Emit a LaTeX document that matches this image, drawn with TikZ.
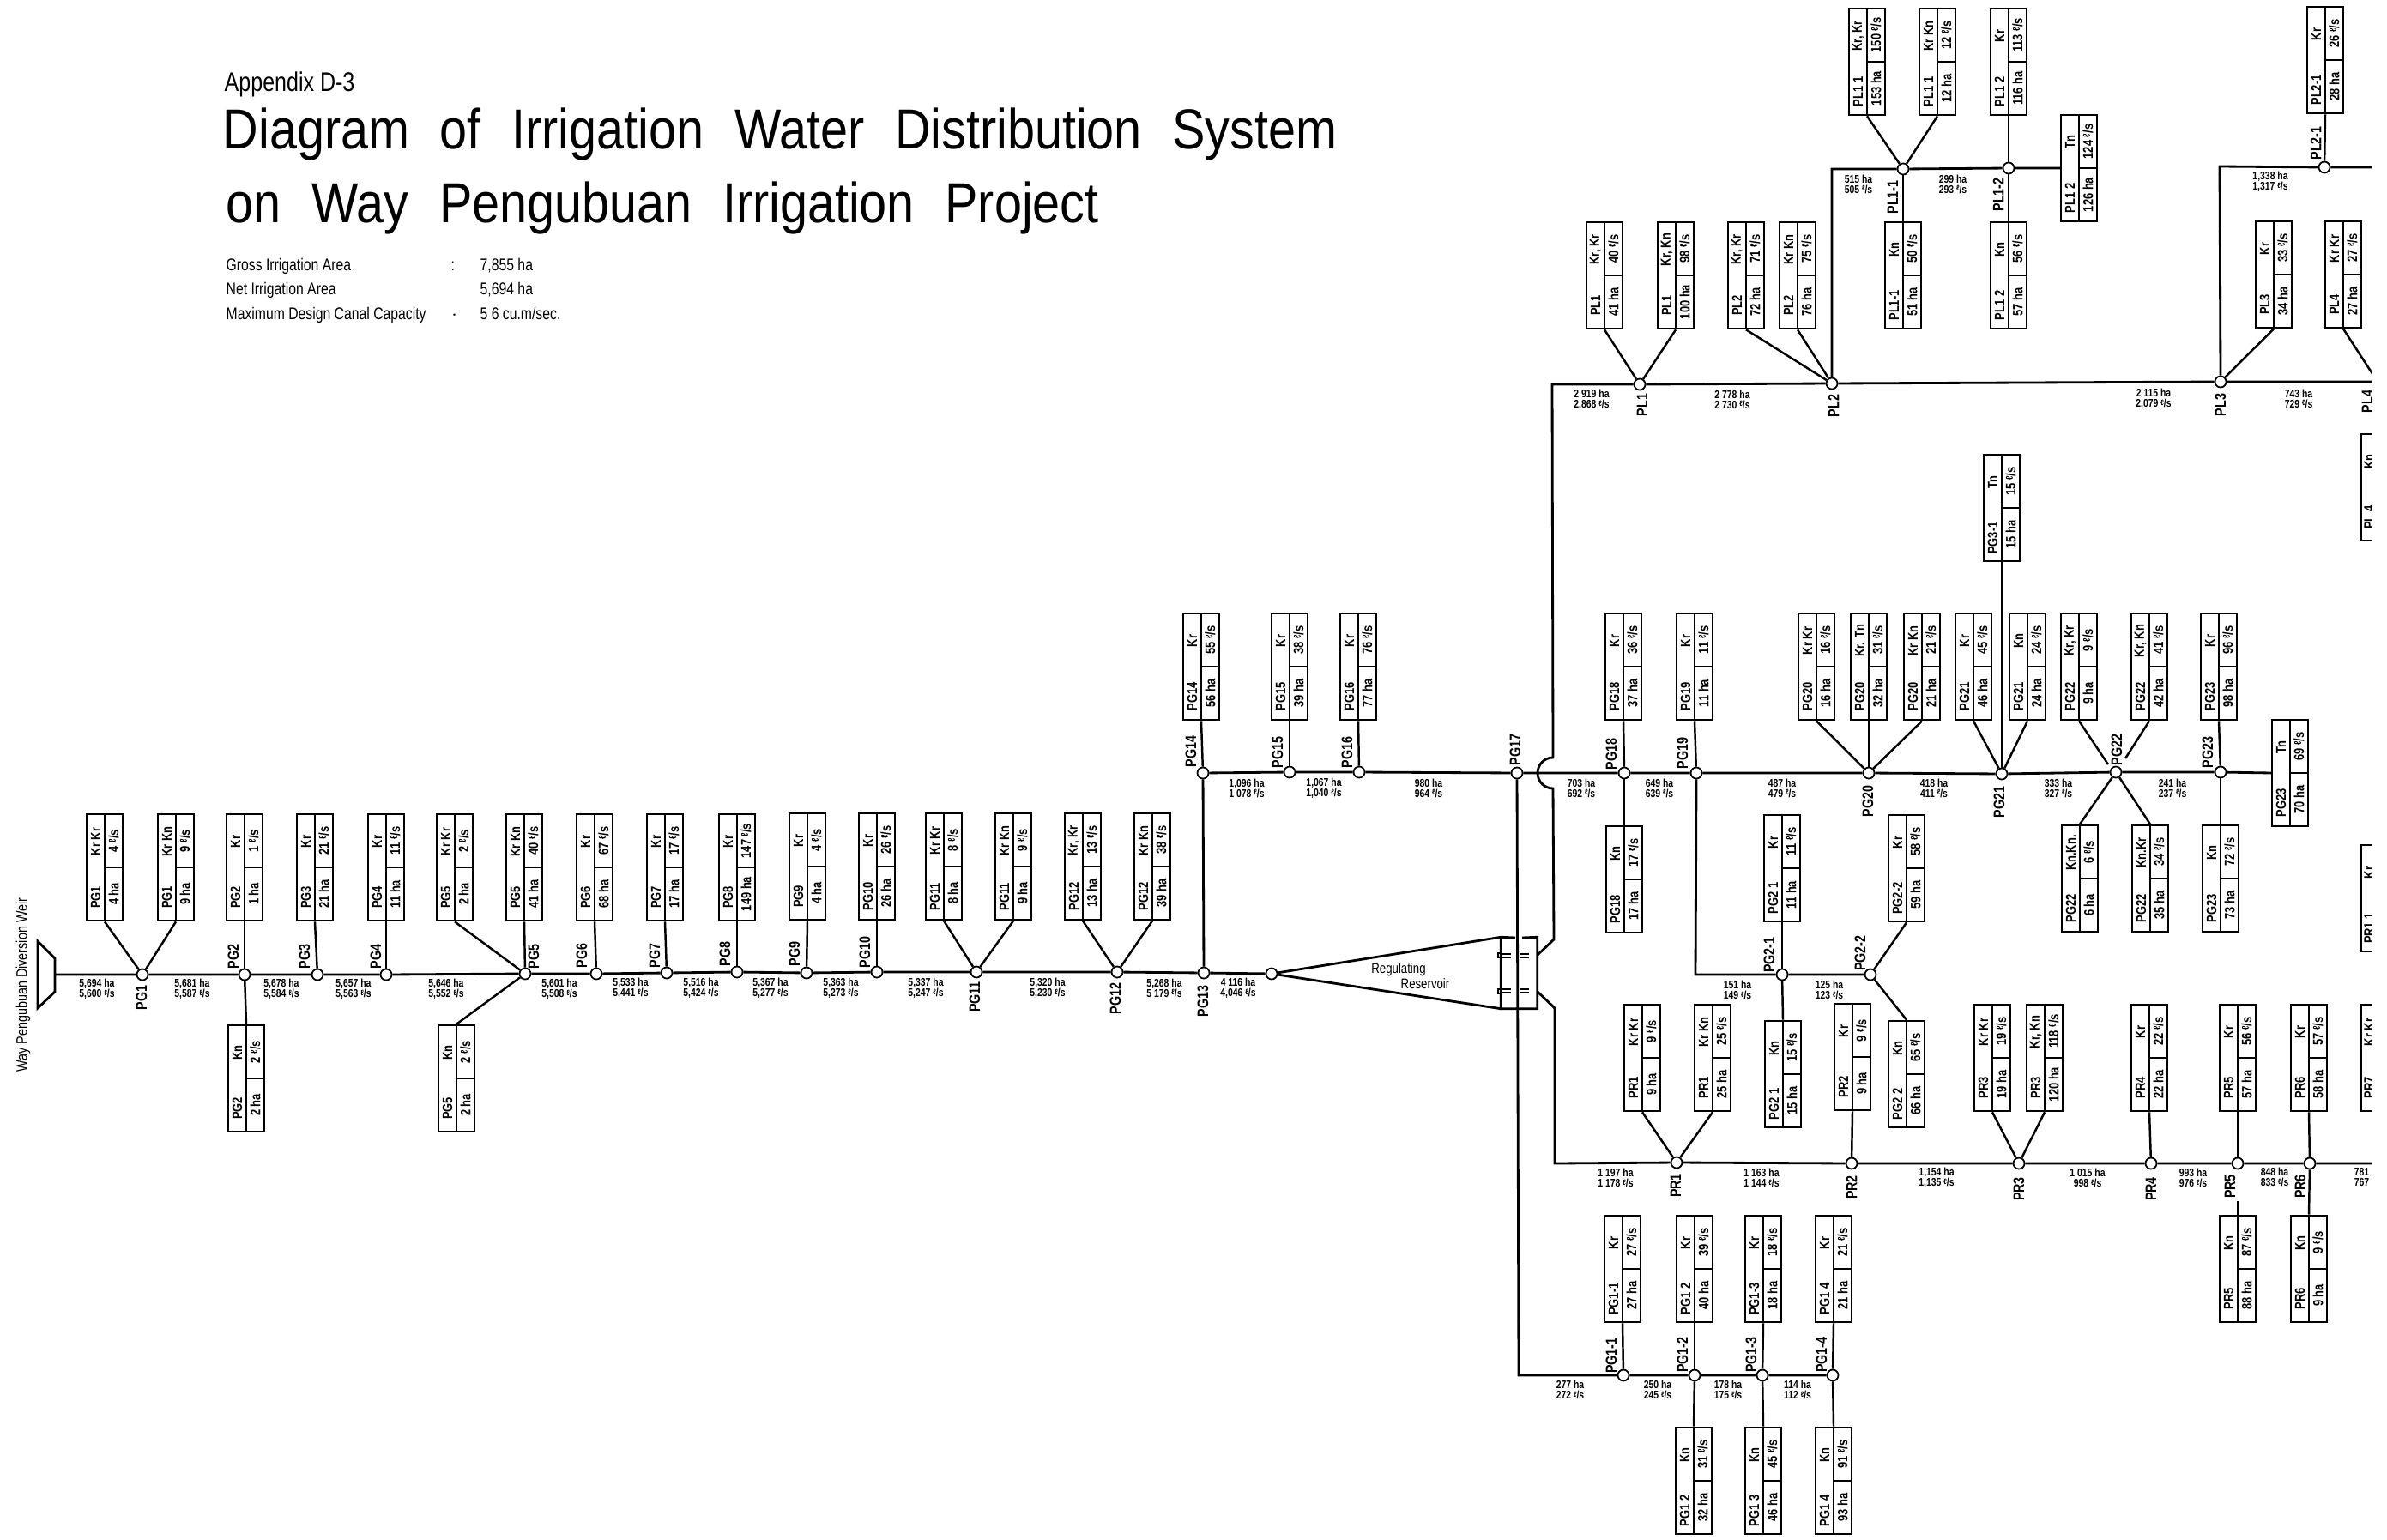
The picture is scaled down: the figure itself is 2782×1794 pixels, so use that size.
\documentclass[tikz,border=0pt]{standalone}
\usepackage{fontspec}
\setmainfont[FakeStretch=0.8]{Liberation Sans}
\newfontfamily\titlefont[FakeStretch=0.875]{Liberation Sans}
\usetikzlibrary{calc}
\newcommand{\lps}{\raisebox{.4ex}{\scalebox{.7}{ℓ}}/s}

\begin{document}
\begin{tikzpicture}[
  x=0.01cm, y=-0.01cm,
  every node/.style={inner sep=0pt},
  canal/.style={line width=0.8pt},
  lateral/.style={line width=0.7pt},
  joint/.style={draw, line width=0.5pt, circle, fill=white, minimum size=3.7pt},
  tag/.style={rotate=90, font=\fontsize{5.1}{6}\selectfont\bfseries},
  farm/.style={draw, line width=0.6pt, minimum width=0.415cm, minimum height=1.245cm},
  farmtext/.style={rotate=90, font=\fontsize{4.6}{5}\selectfont\bfseries},
  flowtext/.style={align=center, font=\fontsize{3.7}{3.5}\selectfont\bfseries},
  infotext/.style={anchor=base west, font=\fontsize{5.6}{6}\selectfont}
]
\useasboundingbox (0,0) rectangle (2782,1794);
\def\farmbox#1#2#3#4#5#6#7{
  \node[farm] (#1) at (#2,#3) {};
  \draw[line width=0.6pt] (#1.north) -- (#1.south);
  \draw[line width=0.6pt] (#1.center) -- (#1.east);
  \node[farmtext] (#1n) at ($(#1.center)+(-10.5,35)$) {#4};
  \node[farmtext] (#1t) at ($(#1.center)+(-10.5,-30)$) {#5};
  \node[farmtext] (#1q) at ($(#1.center)+(10.5,-31)$) {#6 \lps};
  \node[farmtext] (#1a) at ($(#1.center)+(10.5,31)$) {#7 ha};
}
\def\cutbox#1#2#3#4{
  \node[farm] (#1) at (2773,#2) {};
  \node[farmtext] (#1n) at ($(#1.center)+(-12,35)$) {#3};
  \node[farmtext] (#1t) at ($(#1.center)+(-12,-30)$) {#4};
}
\def\turnout#1#2#3#4#5{
  \node[joint] (#1) at (#2,#3) {};
  \node[tag] (l#1) at (#4,#5) {#1};
}
\def\flowtag#1#2#3#4#5{
  \node[flowtext] (#1) at (#2,#3) {#4 ha\\#5 \lps};
}

\node[anchor=base west, font=\fontsize{8.9}{10}\selectfont] (appendix) at (261,107) {Appendix D-3};
\node[anchor=base west, font=\fontsize{18.7}{20}\titlefont] (title1) at (259,173) {Diagram\hspace{0.3em} of\hspace{0.3em} Irrigation\hspace{0.3em} Water\hspace{0.3em} Distribution\hspace{0.3em} System};
\node[anchor=base west, font=\fontsize{18.7}{20}\titlefont] (title2) at (263,259) {on\hspace{0.3em} Way\hspace{0.3em} Pengubuan\hspace{0.3em} Irrigation\hspace{0.3em} Project};
\node[infotext] (gross) at (263,315) {Gross Irrigation Area};
\node[infotext] (grossc) at (525,315) {:};
\node[infotext] (grossv) at (559,315) {7,855 ha};
\node[infotext] (net) at (263,343) {Net Irrigation Area};
\node[infotext] (netv) at (559,343) {5,694 ha};
\node[infotext] (maxd) at (263,372) {Maximum Design Canal Capacity};
\node[infotext] (maxc) at (525,372) {$\cdot$};
\node[infotext] (maxv) at (559,372) {5 6 cu.m/sec.};

\draw[canal] (44,1097) -- (64,1117) -- (64,1156) -- (44,1175) -- cycle;
\coordinate (weir) at (64,1136);
\node[rotate=90, font=\fontsize{5.1}{6}\selectfont] (weirname) at (27,1148) {Way Pengubuan Diversion Weir};

\turnout{PG1}{166}{1136}{165}{1163}
\turnout{PG2}{285}{1136}{272}{1115}
\turnout{PG3}{370}{1136}{355}{1115}
\turnout{PG4}{450}{1136}{438}{1115}
\turnout{PG5}{612}{1135}{622}{1115}
\turnout{PG6}{695}{1135}{678}{1114}
\turnout{PG7}{777}{1134}{763}{1114}
\turnout{PG8}{859}{1133}{845}{1112}
\turnout{PG9}{940}{1134}{926}{1112}
\turnout{PG10}{1022}{1133}{1008}{1110}
\turnout{PG11}{1138}{1133}{1136}{1162}
\turnout{PG12}{1302}{1133}{1300}{1164}
\turnout{PG13}{1403}{1134}{1402}{1167}
\turnout{PG14}{1402}{901}{1388}{876}
\turnout{PG15}{1503}{900}{1489}{877}
\turnout{PG16}{1584}{900}{1570}{877}
\turnout{PG17}{1768}{901}{1766}{874}
\turnout{PG18}{1893}{901}{1878}{879}
\turnout{PG19}{1977}{901}{1961}{878}
\turnout{PG20}{2178}{901}{2177}{934}
\turnout{PG21}{2333}{902}{2330}{935}
\turnout{PG22}{2466}{900}{2467}{874}
\turnout{PG23}{2588}{900}{2573}{877}
\turnout{PG2-1}{2077}{1136}{2062}{1113}
\turnout{PG2-2}{2180}{1136}{2168}{1111}
\turnout{PG1-1}{1892}{1603}{1878}{1580}
\turnout{PG1-2}{1975}{1603}{1961}{1579}
\turnout{PG1-3}{2054}{1603}{2041}{1579}
\turnout{PG1-4}{2136}{1603}{2123}{1579}
\turnout{PR1}{1954}{1355}{1953}{1382}
\turnout{PR2}{2158}{1356}{2158}{1384}
\turnout{PR3}{2353}{1356}{2353}{1386}
\turnout{PR4}{2507}{1356}{2507}{1386}
\turnout{PR5}{2608}{1356}{2599}{1383}
\turnout{PR6}{2692}{1356}{2681}{1383}
\turnout{PL1}{1911}{448}{1914}{472}
\turnout{PL2}{2135}{447}{2137}{473}
\turnout{PL3}{2588}{445}{2588}{472}
\turnout{PL1-1}{2218}{197}{2206}{230}
\turnout{PL1-2}{2341}{196}{2329}{227}
\turnout{PL2-1}{2709}{195}{2699}{167}
\node[joint] (resin) at (1482,1135) {};
\coordinate (PL4) at (2771,445);
\node[tag] (lPL4) at (2759,468) {PL4};

\farmbox{pg1a}{122}{1011}{PG1}{Kr Kr}{4}{4}
\farmbox{pg1b}{205}{1011}{PG1}{Kr Kn}{9}{9}
\farmbox{pg2a}{285}{1011}{PG2}{Kr}{1}{1}
\farmbox{pg2b}{287}{1257}{PG2}{Kn}{2}{2}
\farmbox{pg3a}{367}{1011}{PG3}{Kr}{21}{21}
\farmbox{pg4a}{450}{1011}{PG4}{Kr}{11}{11}
\farmbox{pg5a}{530}{1011}{PG5}{Kr Kr}{2}{2}
\farmbox{pg5b}{611}{1011}{PG5}{Kr Kn}{40}{41}
\farmbox{pg5c}{532}{1257}{PG5}{Kn}{2}{2}
\farmbox{pg6a}{693}{1011}{PG6}{Kr}{67}{68}
\farmbox{pg7a}{775}{1011}{PG7}{Kr}{17}{17}
\farmbox{pg8a}{859}{1011}{PG8}{Kr}{147}{149}
\farmbox{pg9a}{941}{1010}{PG9}{Kr}{4}{4}
\farmbox{pg10a}{1022}{1010}{PG10}{Kr}{26}{26}
\farmbox{pg11a}{1100}{1010}{PG11}{Kr Kr}{8}{8}
\farmbox{pg11b}{1181}{1010}{PG11}{Kr Kn}{9}{9}
\farmbox{pg12a}{1262}{1010}{PG12}{Kr, Kr}{13}{13}
\farmbox{pg12b}{1343}{1010}{PG12}{Kr Kn}{38}{39}
\farmbox{pg14a}{1400}{777}{PG14}{Kr}{55}{56}
\farmbox{pg15a}{1503}{777}{PG15}{Kr}{38}{39}
\farmbox{pg16a}{1583}{777}{PG16}{Kr}{76}{77}
\farmbox{pg18a}{1892}{777}{PG18}{Kr}{36}{37}
\farmbox{pg18b}{1893}{1025}{PG18}{Kn}{17}{17}
\farmbox{pg19a}{1975}{777}{PG19}{Kr}{11}{11}
\farmbox{pg20a}{2117}{777}{PG20}{Kr Kr}{16}{16}
\farmbox{pg20b}{2178}{777}{PG20}{Kr. Tn}{31}{32}
\farmbox{pg20c}{2240}{777}{PG20}{Kr Kn}{21}{21}
\farmbox{pg21a}{2300}{777}{PG21}{Kr}{45}{46}
\farmbox{pg21b}{2363}{777}{PG21}{Kn}{24}{24}
\farmbox{pg31a}{2333}{592}{PG3-1}{Tn}{15}{15}
\farmbox{pg22a}{2423}{777}{PG22}{Kr, Kr}{9}{9}
\farmbox{pg22b}{2505}{777}{PG22}{Kr, Kn}{41}{42}
\farmbox{pg22c}{2424}{1024}{PG22}{Kn.Kn.}{6}{6}
\farmbox{pg22d}{2506}{1024}{PG22}{Kn.Kr}{34}{35}
\farmbox{pg23a}{2586}{777}{PG23}{Kr}{96}{98}
\farmbox{pg23b}{2588}{1024}{PG23}{Kn}{72}{73}
\farmbox{pg23c}{2669}{901}{PG23}{Tn}{69}{70}
\farmbox{pgiia}{2077}{1012}{PG2 1}{Kr}{11}{11}
\farmbox{pgiib}{2078}{1252}{PG2 1}{Kn}{15}{15}
\farmbox{pgiic}{2222}{1012}{PG2-2}{Kr}{58}{59}
\farmbox{pgiid}{2222}{1252}{PG2 2}{Kn}{65}{66}
\farmbox{pr1a}{1914}{1233}{PR1}{Kr Kr}{9}{9}
\farmbox{pr1b}{1996}{1233}{PR1}{Kr Kn}{25}{25}
\farmbox{pr2a}{2159}{1232}{PR2}{Kr}{9}{9}
\farmbox{pr3a}{2322}{1233}{PR3}{Kr Kr}{19}{19}
\farmbox{pr3b}{2383}{1233}{PR3}{Kr, Kn}{118}{120}
\farmbox{pr4a}{2505}{1233}{PR4}{Kr}{22}{22}
\farmbox{pr5a}{2608}{1233}{PR5}{Kr}{56}{57}
\farmbox{pr5b}{2608}{1479}{PR5}{Kn}{87}{88}
\farmbox{pr6a}{2691}{1233}{PR6}{Kr}{57}{58}
\farmbox{pr6b}{2691}{1479}{PR6}{Kn}{9}{9}
\farmbox{pgia}{1891}{1479}{PG1-1}{Kr}{27}{27}
\farmbox{pgib}{1975}{1479}{PG1 2}{Kr}{39}{40}
\farmbox{pgic}{1974}{1726}{PG1 2}{Kn}{31}{32}
\farmbox{pgid}{2055}{1479}{PG1-3}{Kr}{18}{18}
\farmbox{pgie}{2055}{1726}{PG1 3}{Kn}{45}{46}
\farmbox{pgif}{2137}{1479}{PG1 4}{Kr}{21}{21}
\farmbox{pgig}{2137}{1726}{PG1 4}{Kn}{91}{93}
\farmbox{pl1a}{1870}{321}{PL1}{Kr, Kr}{40}{41}
\farmbox{pl1b}{1953}{321}{PL1}{Kr, Kn}{98}{100}
\farmbox{pl2a}{2035}{321}{PL2}{Kr, Kr}{71}{72}
\farmbox{pl2b}{2095}{321}{PL2}{Kr Kn}{75}{76}
\farmbox{pliia}{2176}{72}{PL1 1}{Kr, Kr}{150}{153}
\farmbox{pliib}{2258}{72}{PL1 1}{Kr Kn}{12}{12}
\farmbox{pliic}{2218}{321}{PL1-1}{Kn}{50}{51}
\farmbox{pliid}{2341}{72}{PL1 2}{Kr}{113}{116}
\farmbox{pliie}{2341}{321}{PL1 2}{Kn}{56}{57}
\farmbox{pliif}{2423}{196}{PL1 2}{Tn}{124}{126}
\farmbox{pl21a}{2710}{70}{PL2-1}{Kr}{26}{28}
\farmbox{pl3a}{2650}{320}{PL3}{Kr}{33}{34}
\farmbox{pl4a}{2731}{320}{PL4}{Kr Kr}{27}{27}
\cutbox{pl4b}{568}{PL.4}{Kn}
\cutbox{pr11a}{1047}{PR1.1}{Kr}
\cutbox{pr7a}{1233}{PR7}{Kr Kr}

\draw[canal] (weir) -- (PG1) -- (PG2) -- (PG3) -- (PG4) -- (PG5) -- (PG6) -- (PG7) -- (PG8) -- (PG9) -- (PG10) -- (PG11) -- (PG12) -- (PG13) -- (resin);
\draw[canal] (PG13) -- (PG14) -- (PG15) -- (PG16) -- (PG17) -- (PG18) -- (PG19) -- (PG20) -- (PG21) -- (PG22) -- (PG23) -- (pg23c.west);
\draw[canal] (PG17) -- (1770,1603) -- (PG1-1) -- (PG1-2) -- (PG1-3) -- (PG1-4);
\draw[canal] (PG19) -- (1976,1136) -- (PG2-1) -- (PG2-2);
\draw[canal] (PL1) -- (1809,448) -- (1810,883) .. controls (1800,883) and (1792,891) .. (1792,901) .. controls (1792,911) and (1800,919) .. (1810,919) -- (1811,1095) -- (1792,1113);
\draw[canal] (1792,1156) -- (1812,1175) -- (1812,1356) -- (PR1) -- (PR2) -- (PR3) -- (PR4) -- (PR5) -- (PR6) -- (2764,1356);
\draw[canal] (PL1) -- (PL2) -- (PL3) -- (PL4);
\draw[canal] (PL2) -- (2135,197) -- (PL1-1) -- (PL1-2) -- (pliif.west);
\draw[canal] (PL3) -- (2587,194) -- (PL2-1) -- (2764,195);

\node[minimum width=0.41cm, minimum height=0.82cm] (resv) at (1770.5,1134) {};
\draw[canal] (resin) -- (resv.north west) -- (1766,1093);
\draw[canal] (1774,1093) -- (resv.north east) -- (resv.south east) -- (resv.south west) -- (resv.north west);
\draw[canal] (resin) -- (resv.south west);
\draw[dashed, line width=0.5pt] (1750,1112) -- (1792,1112);
\draw[dashed, line width=0.5pt] (1750,1116) -- (1792,1116);
\draw[dashed, line width=0.5pt] (1750,1153) -- (1792,1153);
\draw[dashed, line width=0.5pt] (1750,1157) -- (1792,1157);
\draw[line width=0.4pt] (1746,1111) rectangle (1750,1116);
\draw[line width=0.4pt] (1746,1153) rectangle (1750,1158);
\node[font=\fontsize{4.7}{5}\selectfont] (resa) at (1630,1130) {Regulating};
\node[font=\fontsize{4.7}{5}\selectfont] (resb) at (1661,1147) {Reservoir};

\draw[lateral] (pg1a.south) -- (PG1);
\draw[lateral] (pg1b.south) -- (PG1);
\draw[lateral] (pg2a.south) -- (PG2);
\draw[lateral] (pg2b.north) -- (PG2);
\draw[lateral] (pg3a.south) -- (PG3);
\draw[lateral] (pg4a.south) -- (PG4);
\draw[lateral] (pg5a.south) -- (PG5);
\draw[lateral] (pg5b.south) -- (PG5);
\draw[lateral] (pg5c.north) -- (PG5);
\draw[lateral] (pg6a.south) -- (PG6);
\draw[lateral] (pg7a.south) -- (PG7);
\draw[lateral] (pg8a.south) -- (PG8);
\draw[lateral] (pg9a.south) -- (PG9);
\draw[lateral] (pg10a.south) -- (PG10);
\draw[lateral] (pg11a.south) -- (PG11);
\draw[lateral] (pg11b.south) -- (PG11);
\draw[lateral] (pg12a.south) -- (PG12);
\draw[lateral] (pg12b.south) -- (PG12);
\draw[lateral] (pg14a.south) -- (PG14);
\draw[lateral] (pg15a.south) -- (PG15);
\draw[lateral] (pg16a.south) -- (PG16);
\draw[lateral] (pg18a.south) -- (PG18);
\draw[lateral] (pg18b.north) -- (PG18);
\draw[lateral] (pg19a.south) -- (PG19);
\draw[lateral] (pg20a.south) -- (PG20);
\draw[lateral] (pg20b.south) -- (PG20);
\draw[lateral] (pg20c.south) -- (PG20);
\draw[lateral] (pg21a.south) -- (PG21);
\draw[lateral] (pg21b.south) -- (PG21);
\draw[lateral] (pg31a.south) -- (PG21);
\coordinate (pg22x) at (2457,891);
\coordinate (pg22y) at (2477,884);
\draw[lateral] (pg22a.south) -- (pg22x);
\draw[lateral] (pg22b.south) -- (pg22y);
\draw[lateral] (pg22c.north) -- (PG22);
\draw[lateral] (pg22d.north) -- (PG22);
\draw[lateral] (pg23a.south) -- (PG23);
\draw[lateral] (pg23b.north) -- (PG23);
\draw[lateral] (pgiia.south) -- (PG2-1);
\draw[lateral] (pgiib.north) -- (PG2-1);
\draw[lateral] (pgiic.south) -- (PG2-2);
\draw[lateral] (pgiid.north) -- (PG2-2);
\draw[lateral] (pr1a.south) -- (PR1);
\draw[lateral] (pr1b.south) -- (PR1);
\draw[lateral] (pr2a.south) -- (PR2);
\draw[lateral] (pr3a.south) -- (PR3);
\draw[lateral] (pr3b.south) -- (PR3);
\draw[lateral] (pr4a.south) -- (PR4);
\draw[lateral] (pr5a.south) -- (PR5);
\coordinate (pr5x) at (2608,1400);
\draw[lateral] (pr5b.north) -- (pr5x);
\draw[lateral] (pr6a.south) -- (PR6);
\draw[lateral] (pr6b.north) -- (PR6);
\draw[lateral] (pgia.south) -- (PG1-1);
\draw[lateral] (pgib.south) -- (PG1-2);
\draw[lateral] (pgic.north) -- (PG1-2);
\draw[lateral] (pgid.south) -- (PG1-3);
\draw[lateral] (pgie.north) -- (PG1-3);
\draw[lateral] (pgif.south) -- (PG1-4);
\draw[lateral] (pgig.north) -- (PG1-4);
\draw[lateral] (pl1a.south) -- (PL1);
\draw[lateral] (pl1b.south) -- (PL1);
\draw[lateral] (pl2a.south) -- (PL2);
\draw[lateral] (pl2b.south) -- (PL2);
\draw[lateral] (pliia.south) -- (PL1-1);
\draw[lateral] (pliib.south) -- (PL1-1);
\draw[lateral] (pliic.north) -- (PL1-1);
\draw[lateral] (pliid.south) -- (PL1-2);
\draw[lateral] (pliie.north) -- (PL1-2);
\draw[lateral] (pl21a.south) -- (PL2-1);
\draw[lateral] (pl3a.south) -- (PL3);
\draw[lateral] (pl4a.south) -- (PL4);

\flowtag{fa}{113}{1153}{5,694}{5,600}
\flowtag{fb}{224}{1153}{5,681}{5,587}
\flowtag{fc}{328}{1153}{5,678}{5,584}
\flowtag{fd}{412}{1153}{5,657}{5,563}
\flowtag{fe}{520}{1153}{5,646}{5,552}
\flowtag{ff}{652}{1153}{5,601}{5,508}
\flowtag{fg}{735}{1152}{5,533}{5,441}
\flowtag{fh}{817}{1152}{5,516}{5,424}
\flowtag{fi}{898}{1152}{5,367}{5,277}
\flowtag{fj}{980}{1152}{5,363}{5,273}
\flowtag{fk}{1079}{1152}{5,337}{5,247}
\flowtag{fl}{1221}{1152}{5,320}{5,230}
\flowtag{fm}{1357}{1152}{5,268}{5 179}
\flowtag{fn}{1443}{1152}{4 116}{4,046}
\flowtag{ga}{1453}{919}{1,096}{1 078}
\flowtag{gb}{1543}{919}{1,067}{1,040}
\flowtag{gc}{1665}{919}{980}{964}
\flowtag{gd}{1843}{919}{703}{692}
\flowtag{ge}{1934}{919}{649}{639}
\flowtag{gf}{2077}{919}{487}{479}
\flowtag{gg}{2254}{919}{418}{411}
\flowtag{gh}{2399}{919}{333}{327}
\flowtag{gi}{2532}{919}{241}{237}
\flowtag{ha}{2025}{1154}{151}{149}
\flowtag{hb}{2132}{1154}{125}{123}
\flowtag{ia}{1883}{1373}{1 197}{1 178}
\flowtag{ib}{2053}{1373}{1 163}{1 144}
\flowtag{ic}{2257}{1373}{1,154}{1,135}
\flowtag{id}{2433}{1373}{1 015}{998}
\flowtag{ie}{2556}{1373}{993}{976}
\flowtag{if}{2651}{1372}{848}{833}
\flowtag{ig}{2760}{1372}{781}{767}
\flowtag{ja}{1830}{1620}{277}{272}
\flowtag{jb}{1932}{1620}{250}{245}
\flowtag{jc}{2014}{1620}{178}{175}
\flowtag{jd}{2095}{1620}{114}{112}
\flowtag{ka}{1855}{466}{2 919}{2,868}
\flowtag{kb}{2019}{466}{2 778}{2 730}
\flowtag{kc}{2510}{465}{2 115}{2,079}
\flowtag{kd}{2679}{465}{743}{729}
\flowtag{la}{2166}{215}{515}{505}
\flowtag{lb}{2276}{215}{299}{293}
\flowtag{lc}{2646}{212}{1,338}{1,317}

\fill[white] (2764,-1) rectangle (2783,1795);
\end{tikzpicture}
\end{document}
